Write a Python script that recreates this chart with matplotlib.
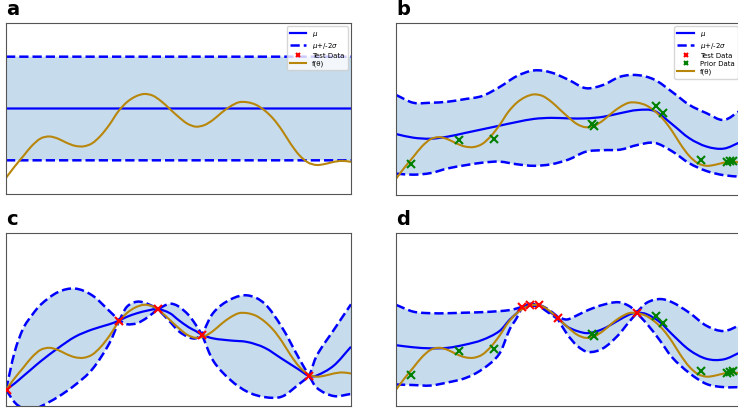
import matplotlib
matplotlib.use("Agg")
import matplotlib.pyplot as plt
from matplotlib.path import Path
from matplotlib.patches import PathPatch

# true objective f(theta), shared by all four panels
THETA = [0.000, 0.025, 0.050, 0.075, 0.100, 0.125, 0.150, 0.175, 0.200, 0.225,
         0.250, 0.275, 0.300, 0.325, 0.350, 0.375, 0.400, 0.425, 0.450, 0.475,
         0.500, 0.525, 0.550, 0.575, 0.600, 0.625, 0.650, 0.675, 0.700, 0.725,
         0.750, 0.775, 0.800, 0.825, 0.850, 0.875, 0.900, 0.925, 0.950, 0.975, 1.000]
F_TRUE = [-1.34, -1.12, -0.92, -0.72, -0.58, -0.54, -0.58, -0.66, -0.72, -0.73,
          -0.67, -0.52, -0.31, -0.06, 0.12, 0.23, 0.28, 0.25, 0.14, -0.01,
          -0.16, -0.29, -0.35, -0.32, -0.22, -0.08, 0.04, 0.12, 0.12, 0.07,
          -0.04, -0.20, -0.42, -0.68, -0.90, -1.04, -1.09, -1.07, -1.03, -1.01, -1.03]

# prior data (panels b, d) and test data (panels c, d)
PRIOR_X = [0.044, 0.184, 0.284, 0.567, 0.574, 0.753, 0.775, 0.884, 0.958, 0.968, 0.978]
PRIOR_Y = [-1.06, -0.60, -0.57, -0.28, -0.32, 0.06, -0.07, -0.98, -1.02, -1.00, -0.99]
TEST_C_X = [0.002, 0.328, 0.440, 0.568, 0.879]
TEST_C_Y = [-1.34, -0.02, 0.20, -0.29, -1.08]
TEST_D_X = [0.364, 0.388, 0.415, 0.469, 0.698]
TEST_D_Y = [0.23, 0.28, 0.27, 0.03, 0.13]

# panel a: prior only
X_A = [0.0, 1.0]
MU_A = [0.0, 0.0]
UP_A = [1.0, 1.0]
LO_A = [-1.0, -1.0]

# panel b: posterior on prior data
X_B = [0.0, 0.05, 0.1, 0.15, 0.2, 0.25, 0.3, 0.35, 0.4, 0.45, 0.5,
       0.55, 0.6, 0.65, 0.7, 0.75, 0.8, 0.85, 0.9, 0.95, 1.0]
MU_B = [-0.48, -0.55, -0.57, -0.53, -0.46, -0.39, -0.32, -0.25, -0.19, -0.17, -0.18,
        -0.18, -0.15, -0.08, -0.02, -0.04, -0.29, -0.56, -0.72, -0.76, -0.63]
UP_B = [0.27, 0.12, 0.12, 0.14, 0.19, 0.25, 0.42, 0.63, 0.74, 0.70, 0.56,
        0.40, 0.46, 0.62, 0.65, 0.56, 0.33, 0.08, -0.08, -0.21, -0.02]
LO_B = [-1.24, -1.26, -1.23, -1.14, -1.08, -1.03, -1.01, -1.06, -1.09, -1.06, -0.97,
        -0.82, -0.79, -0.78, -0.69, -0.65, -0.81, -1.04, -1.19, -1.27, -1.30]

# panel c: posterior on test data only
X_C = [0.0, 0.025, 0.05, 0.075, 0.1, 0.15, 0.2, 0.25, 0.3, 0.328, 0.35, 0.38, 0.41,
       0.44, 0.475, 0.5, 0.53, 0.55, 0.568, 0.6, 0.65, 0.7, 0.75, 0.8, 0.85, 0.879,
       0.9, 0.95, 1.0]
MU_C = [-1.34, -1.22, -1.08, -0.94, -0.80, -0.55, -0.33, -0.19, -0.09, -0.02, 0.05, 0.12, 0.17,
        0.20, 0.12, -0.01, -0.15, -0.22, -0.29, -0.36, -0.40, -0.43, -0.54, -0.75, -0.96, -1.08,
        -1.07, -0.88, -0.52]
UP_C = [-1.34, -0.62, -0.17, 0.08, 0.28, 0.52, 0.59, 0.46, 0.16, -0.02, 0.24, 0.34, 0.30,
        0.20, 0.30, 0.25, 0.08, -0.10, -0.29, 0.12, 0.38, 0.46, 0.30, -0.15, -0.75, -1.08,
        -0.70, -0.20, 0.29]
LO_C = [-1.34, -1.58, -1.70, -1.72, -1.66, -1.48, -1.25, -0.95, -0.45, -0.02, -0.09, -0.07, 0.04,
        0.20, -0.04, -0.22, -0.34, -0.36, -0.29, -0.78, -1.15, -1.38, -1.48, -1.47, -1.23, -1.08,
        -1.30, -1.46, -1.42]

# panel d: posterior on prior + test data
X_D = [0.0, 0.05, 0.1, 0.15, 0.2, 0.25, 0.3, 0.33, 0.35, 0.364, 0.388, 0.415, 0.44,
       0.469, 0.495, 0.525, 0.557, 0.6, 0.644, 0.675, 0.698, 0.727, 0.765, 0.8, 0.85,
       0.9, 0.95, 1.0]
MU_D = [-0.49, -0.53, -0.55, -0.54, -0.48, -0.39, -0.22, 0.00, 0.12, 0.23, 0.28, 0.27, 0.17,
        0.03, -0.13, -0.22, -0.26, -0.18, -0.02, 0.09, 0.13, 0.10, -0.05, -0.28, -0.58,
        -0.75, -0.76, -0.62]
UP_D = [0.28, 0.15, 0.12, 0.12, 0.13, 0.14, 0.16, 0.18, 0.21, 0.24, 0.30, 0.28, 0.20,
        0.05, 0.00, 0.08, 0.18, 0.28, 0.33, 0.26, 0.14, 0.32, 0.39, 0.33, 0.13,
        -0.12, -0.22, -0.10]
LO_D = [-1.24, -1.25, -1.26, -1.20, -1.12, -0.95, -0.65, -0.18, 0.03, 0.22, 0.26, 0.26, 0.14,
        0.01, -0.27, -0.50, -0.62, -0.55, -0.30, -0.05, 0.12, -0.08, -0.40, -0.72, -1.02,
        -1.23, -1.29, -1.29]

# (x, mu, upper, lower, test data, show prior data, show legend)
PANELS = {
    "a": (X_A, MU_A, UP_A, LO_A, None, False, True),
    "b": (X_B, MU_B, UP_B, LO_B, None, True, True),
    "c": (X_C, MU_C, UP_C, LO_C, (TEST_C_X, TEST_C_Y), False, False),
    "d": (X_D, MU_D, UP_D, LO_D, (TEST_D_X, TEST_D_Y), True, False),
}

W, H = 738, 409
# axes boxes in pixels: left, top, right, bottom (right column runs off the page)
BOXES = {"a": (6, 23, 351, 194), "b": (396, 23, 741, 195),
         "c": (6, 233, 351, 406), "d": (396, 233, 741, 406)}

F_COLOR = "darkgoldenrod"
BLUE = "blue"


def bezier(xs, ys, corners=()):
    """Smooth Bezier vertices through the knots; band pinch points stay sharp."""
    n = len(xs)
    verts = [(xs[0], ys[0])]
    for i in range(n - 1):
        h = xs[i + 1] - xs[i]
        sec = (ys[i + 1] - ys[i]) / h
        if i == 0 or xs[i] in corners:
            s0 = sec
        else:
            s0 = (ys[i + 1] - ys[i - 1]) / (xs[i + 1] - xs[i - 1])
        if i + 1 == n - 1 or xs[i + 1] in corners:
            s1 = sec
        else:
            s1 = (ys[i + 2] - ys[i]) / (xs[i + 2] - xs[i])
        verts += [(xs[i] + h / 3, ys[i] + s0 * h / 3),
                  (xs[i + 1] - h / 3, ys[i + 1] - s1 * h / 3),
                  (xs[i + 1], ys[i + 1])]
    return verts


def curve(ax, xs, ys, corners=(), **kw):
    v = bezier(xs, ys, corners)
    codes = [Path.MOVETO] + [Path.CURVE4] * (len(v) - 1)
    ax.add_patch(PathPatch(Path(v, codes), fill=False, capstyle="butt", **kw))


def band(ax, xs, up, lo, corners=()):
    vu = bezier(xs, up, corners)
    vl = bezier(xs, lo, corners)[::-1]
    v = vu + [vl[0]] + vl[1:] + [vu[0]]
    codes = ([Path.MOVETO] + [Path.CURVE4] * (len(vu) - 1) + [Path.LINETO]
             + [Path.CURVE4] * (len(vl) - 1) + [Path.CLOSEPOLY])
    ax.add_patch(PathPatch(Path(v, codes), facecolor="C0", alpha=0.25, lw=0))


fig = plt.figure(figsize=(W / 100, H / 100), dpi=100)
for key, (xs, mu, up, lo, test, prior, legend) in PANELS.items():
    l, t, r, b = BOXES[key]
    ax = fig.add_axes([l / W, 1 - b / H, (r - l) / W, (b - t) / H])
    corners = tuple(test[0]) if test else ()
    band(ax, xs, up, lo, corners)
    curve(ax, xs, up, corners, edgecolor=BLUE, lw=1.8, linestyle="--")
    curve(ax, xs, lo, corners, edgecolor=BLUE, lw=1.8, linestyle="--")
    curve(ax, xs, mu, edgecolor=BLUE, lw=1.6)
    curve(ax, THETA, F_TRUE, edgecolor=F_COLOR, lw=1.5)

    # legend proxies
    handles = [ax.plot([], [], color=BLUE, lw=1.6, label=r"$\mu$")[0],
               ax.plot([], [], "--", color=BLUE, lw=1.8, label=r"$\mu$+/-2$\sigma$")[0]]
    tx, ty = test if test else ([], [])
    handles.append(ax.plot(tx, ty, "x", color="red", ms=6, mew=1.5, ls="none",
                           label="Test Data", zorder=4)[0])
    if prior:
        handles.append(ax.plot(PRIOR_X, PRIOR_Y, "x", color="green", ms=6, mew=1.5,
                               ls="none", label="Prior Data", zorder=4)[0])
    handles.append(ax.plot([], [], color=F_COLOR, lw=1.5, label="f(θ)")[0])

    ax.set_xlim(0, 1)
    ax.set_ylim(-1.65, 1.65)
    ax.set_xticks([])
    ax.set_yticks([])
    for sp in ax.spines.values():
        sp.set_color("#555555")
    if legend:
        ax.legend(handles=handles, loc="upper right", fontsize=5, handlelength=2.4,
                  borderpad=0.45, labelspacing=0.3, markerscale=0.6)
    fig.text(l / W, 1 - (t - 8) / H, key, fontsize=14, fontweight="bold",
             ha="left", va="baseline")

fig.savefig("out.png", dpi=100)
